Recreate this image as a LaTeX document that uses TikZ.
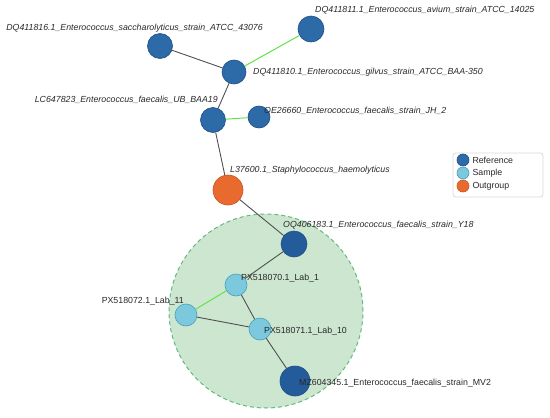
\documentclass[tikz,border=0pt]{standalone}
\usepackage{fontspec}
\setmainfont{Liberation Sans}
\usetikzlibrary{positioning}

\definecolor{refblue}{RGB}{45,106,168}
\definecolor{refdeep}{RGB}{36,92,155}
\definecolor{refline}{RGB}{30,78,130}
\definecolor{smpblue}{RGB}{124,200,220}
\definecolor{smpline}{RGB}{70,160,190}
\definecolor{outorange}{RGB}{232,106,46}
\definecolor{outline}{RGB}{200,85,35}
\definecolor{hullfill}{RGB}{204,230,208}
\definecolor{hullline}{RGB}{100,185,125}
\definecolor{edgegray}{RGB}{80,80,80}
\definecolor{edgegreen}{RGB}{95,228,70}
\definecolor{labgray}{RGB}{40,40,40}

\tikzset{
    refnode/.style={circle, fill=refblue, draw=refline, line width=0.6pt, inner sep=0pt},
    smpnode/.style={circle, fill=smpblue, draw=smpline, line width=0.6pt, inner sep=0pt, minimum size=22pt},
    outnode/.style={circle, fill=outorange, draw=outline, line width=0.6pt, inner sep=0pt, minimum size=30pt},
    tag/.style={font=\fontsize{8.8}{10}\selectfont\itshape, text=labgray, inner sep=0pt},
    labtag/.style={font=\fontsize{8.8}{10}\selectfont, text=labgray, inner sep=0pt},
    link/.style={edgegray, line width=0.9pt},
    glink/.style={edgegreen, line width=1pt}
}

\begin{document}
\begin{tikzpicture}[x=1pt, y=-1pt]
            \useasboundingbox (0,0) rectangle (550,418);

            % Cluster hull
            \draw[fill=hullfill, draw=hullline, dash pattern=on 4pt off 3pt, line width=1pt] (266,311) circle (97pt);

            % Reference strains
            \node[refnode, minimum size=25pt] (sacch) at (160,46) {};
            \node[refnode, minimum size=26pt] (avium) at (311,29) {};
            \node[refnode, minimum size=24pt] (gilvus) at (234,72) {};
            \node[refnode, minimum size=25pt] (baa) at (213,120) {};
            \node[refnode, minimum size=22pt] (jh) at (259,117) {};
            \node[refnode, fill=refdeep, minimum size=26pt] (yeight) at (294,244) {};
            \node[refnode, fill=refdeep, minimum size=30pt] (mvtwo) at (295,381) {};

            % Outgroup
            \node[outnode] (haemo) at (228,190) {};

            % Samples
            \node[smpnode] (labone) at (236,285) {};
            \node[smpnode] (labeleven) at (186,315) {};
            \node[smpnode] (labten) at (260,329) {};

            % Edges
            \draw[link] (sacch) -- (gilvus);
            \draw[glink] (avium) -- (gilvus);
            \draw[link] (gilvus) -- (baa);
            \draw[glink] (baa) -- (jh);
            \draw[link] (baa) -- (haemo);
            \draw[link] (haemo) -- (yeight);
            \draw[link] (yeight) -- (labone);
            \draw[glink] (labone) -- (labeleven);
            \draw[link] (labone) -- (labten);
            \draw[link] (labeleven) -- (labten);
            \draw[link] (labten) -- (mvtwo);

            % Labels
            \node[tag, anchor=base east] (tsacch) at (263,30) {DQ411816.1\_Enterococcus\_saccharolyticus\_strain\_ATCC\_43076};
            \node[tag, anchor=base west] (tavium) at (315,12) {DQ411811.1\_Enterococcus\_avium\_strain\_ATCC\_14025};
            \node[tag, anchor=base west] (tgilvus) at (253,74) {DQ411810.1\_Enterococcus\_gilvus\_strain\_ATCC\_BAA-350};
            \node[tag, anchor=base east] (tbaa) at (218,102) {LC647823\_Enterococcus\_faecalis\_UB\_BAA19};
            \node[tag, anchor=base west] (tjh) at (264,113) {OE26660\_Enterococcus\_faecalis\_strain\_JH\_2};
            \node[tag, anchor=base west] (thaemo) at (230,172) {L37600.1\_Staphylococcus\_haemolyticus};
            \node[tag, anchor=base west] (tyeight) at (283,227) {OQ406183.1\_Enterococcus\_faecalis\_strain\_Y18};
            \node[labtag, anchor=base west] (tlabone) at (241,280) {PX518070.1\_Lab\_1};
            \node[labtag, anchor=base east] (tlabeleven) at (184,303) {PX518072.1\_Lab\_11};
            \node[labtag, anchor=base west] (tlabten) at (264,333) {PX518071.1\_Lab\_10};
            \node[labtag, anchor=base west] (tmvtwo) at (299,385) {MZ604345.1\_Enterococcus\_faecalis\_strain\_MV2};

            % Legend
            \draw[draw=black!15, fill=white, rounded corners=3pt, line width=0.8pt] (453,153) rectangle (543,197);
            \node[refnode, minimum size=12pt] (kref) at (463,160) {};
            \node[smpnode, minimum size=12pt] (ksmp) at (463,173) {};
            \node[outnode, minimum size=12pt] (kout) at (463,186) {};
            \node[labtag, anchor=west, right=3pt of kref] (tref) {Reference};
            \node[labtag, anchor=west, right=3pt of ksmp] (tsmp) {Sample};
            \node[labtag, anchor=west, right=3pt of kout] (tout) {Outgroup};

        \end{tikzpicture}
\end{document}
